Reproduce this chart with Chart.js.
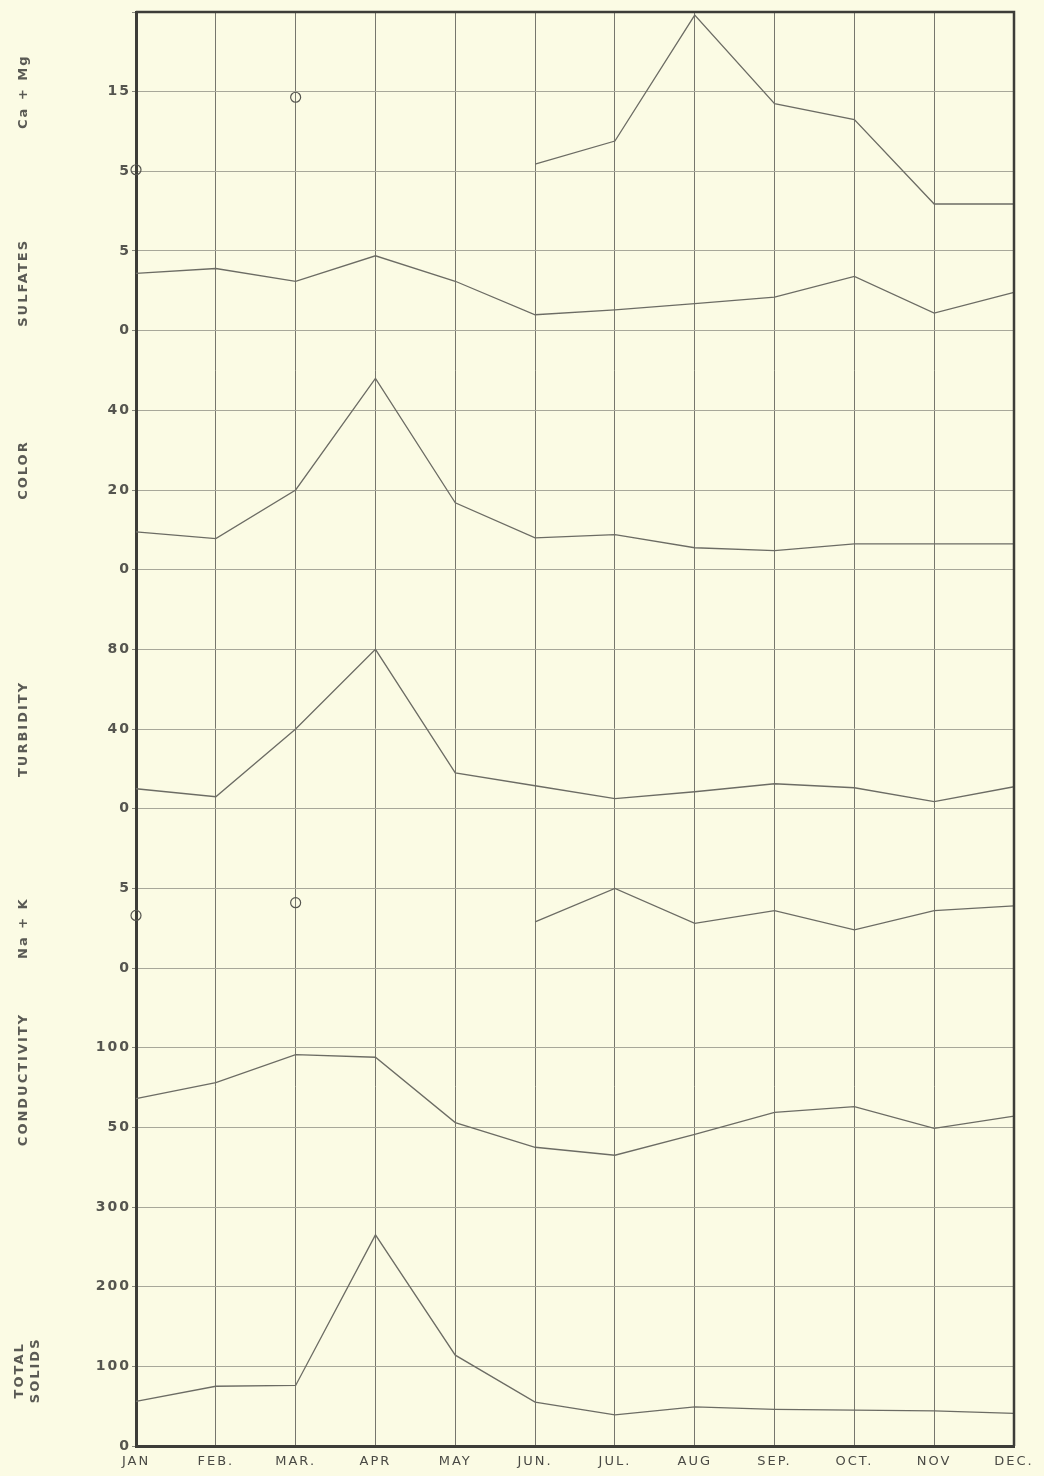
<!DOCTYPE html>
<html>
<head>
<meta charset="utf-8">
<script src="https://cdn.jsdelivr.net/npm/chart.js@4.4.1/dist/chart.umd.min.js"></script>
<style>
  html, body { margin: 0; padding: 0; background: #fbfbe4; }
  #wrap { width: 1044px; height: 1476px; position: relative; }
</style>
</head>
<body>
<div id="wrap"><canvas id="chart"></canvas></div>
<script>
const months = ["JAN", "FEB.", "MAR.", "APR", "MAY", "JUN.", "JUL.", "AUG", "SEP.", "OCT.", "NOV", "DEC."]

// monthly values, one array per panel (bottom panel first)
const totalSolids  = [56, 75, 76, 265, 114, 55, 39, 49, 46, 45, 44, 41]
const conductivity = [68, 78, 95.6, 94, 53, 37.5, 32.5, 45.6, 59.4, 63, 49.4, 57]
const naK          = [null, null, null, null, null, 2.9, 5.0, 2.8, 3.6, 2.4, 3.6, 3.9]
const naKSpots     = [3.3, null, 4.1, null, null, null, null, null, null, null, null, null]
const turbidity    = [10, 6, 40, 80, 18, 11.5, 5, 8.5, 12.5, 10.5, 3.5, 11]
const colour       = [9.5, 7.8, 20, 48, 16.8, 8, 8.8, 5.5, 4.8, 6.5, 6.5, 6.5]
const sulfates     = [3.6, 3.9, 3.1, 4.7, 3.1, 1.0, 1.3, 1.7, 2.1, 3.4, 1.1, 2.4]
const caMg         = [null, null, null, null, null, 5.9, 8.8, 24.6, 13.5, 11.5, 0.9, 0.9]
const caMgSpots    = [5.2, null, 14.3, null, null, null, null, null, null, null, null, null]

// panels, declared bottom to top; stacked axes share the left side
const panels = [
  {id: "ts",    title: ["TOTAL", "SOLIDS"], min: 0, max: 300, step: 100, weight: 3, hide: [],    titleAt: 95},
  {id: "cond",  title: ["CONDUCTIVITY"],    min: 0, max: 150, step: 50,  weight: 3, hide: [0, 150], titleAt: 80},
  {id: "nak",   title: ["Na + K"],          min: 0, max: 10,  step: 5,   weight: 2, hide: [10],  titleAt: 2.5},
  {id: "turb",  title: ["TURBIDITY"],       min: 0, max: 120, step: 40,  weight: 3, hide: [120], titleAt: 40},
  {id: "color", title: ["COLOR"],           min: 0, max: 60,  step: 20,  weight: 3, hide: [60],  titleAt: 25},
  {id: "sulf",  title: ["SULFATES"],        min: 0, max: 10,  step: 5,   weight: 2, hide: [10],  titleAt: 3},
  {id: "camg",  title: ["Ca + Mg"],         min: 5, max: 25,  step: 10,  weight: 2, hide: [25],  titleAt: 15},
]

const ink = "#3d3d38"
const lineInk = "#6c6c64"

// clip off: a line may run past its own panel (Ca + Mg in Nov/Dec)
function lineSet(data, axis) {
  return {data, yAxisID: axis, borderColor: lineInk, borderWidth: 1.3, pointRadius: 0,
    tension: 0, spanGaps: false, fill: false, clip: false}
}
function spotSet(data, axis) {
  return {data, yAxisID: axis, showLine: false, pointRadius: 5, pointBorderWidth: 1.2,
    pointBorderColor: "#55554f", pointBackgroundColor: "rgba(0,0,0,0)", clip: false}
}

const scales = {
  x: {
    type: "category",
    labels: months,
    offset: false,
    border: {display: true, color: ink, width: 3},
    grid: {color: "#76766c", lineWidth: 1, drawTicks: false},
    ticks: {autoSkip: false, maxRotation: 0, padding: 8, color: "#4a4a45", font: {size: 13}},
    afterFit: s => { s.height = 30 }
  }
}
panels.forEach(p => {
  scales[p.id] = {
    type: "linear",
    axis: "y",
    position: "left",
    stack: "panels",
    stackWeight: p.weight,
    min: p.min,
    max: p.max,
    offset: false,
    border: {display: true, color: ink, width: 3},
    grid: {color: "#a7a799", lineWidth: 1, tickLength: 4, tickColor: "#8a8a7e"},
    ticks: {
      stepSize: p.step,
      padding: 1,
      color: "#55554f",
      font: {size: 14, weight: "bold"},
      callback: v => p.hide.includes(v) ? "" : v
    },
    afterFit: s => { s.width = 136 }
  }
})

const spacing = {
  id: "spacing",
  beforeUpdate(chart) { chart.ctx.letterSpacing = "2px" },
  beforeDraw(chart) { chart.ctx.letterSpacing = "2px" }
}

const frame = {
  id: "frame",
  afterDraw(chart) {
    const {ctx, chartArea: a} = chart
    ctx.save()
    ctx.strokeStyle = ink
    ctx.lineWidth = 2.5
    ctx.beginPath()
    ctx.moveTo(a.left, a.top)
    ctx.lineTo(a.right, a.top)
    ctx.lineTo(a.right, a.bottom)
    ctx.stroke()
    ctx.restore()
  }
}

const sideTitles = {
  id: "sideTitles",
  afterDraw(chart) {
    const ctx = chart.ctx
    ctx.save()
    ctx.fillStyle = "#5a5a54"
    ctx.font = "bold 13px 'DejaVu Sans'"
    ctx.letterSpacing = "2px"
    ctx.textAlign = "center"
    ctx.textBaseline = "middle"
    panels.forEach(p => {
      const y = chart.scales[p.id].getPixelForValue(p.titleAt)
      const x0 = p.title.length > 1 ? 20 : 24
      p.title.forEach((line, i) => {
        ctx.save()
        ctx.translate(x0 + i * 16, y)
        ctx.rotate(-Math.PI / 2)
        ctx.fillText(line, 0, 0)
        ctx.restore()
      })
    })
    ctx.restore()
  }
}

Chart.defaults.font.family = "'DejaVu Sans', sans-serif"

const chart = new Chart("chart", {
  type: "line",
  data: {
    labels: months,
    datasets: [
      lineSet(totalSolids, "ts"),
      lineSet(conductivity, "cond"),
      lineSet(naK, "nak"),
      spotSet(naKSpots, "nak"),
      lineSet(turbidity, "turb"),
      lineSet(colour, "color"),
      lineSet(sulfates, "sulf"),
      lineSet(caMg, "camg"),
      spotSet(caMgSpots, "camg"),
    ]
  },
  options: {
    responsive: true,
    maintainAspectRatio: false,
    animation: false,
    events: [],
    layout: {padding: {left: 0, right: 30, top: 12, bottom: 0}},
    plugins: {
      legend: {display: false},
      tooltip: {enabled: false},
    },
    scales
  },
  plugins: [spacing, frame, sideTitles]
})
</script>
</body>
</html>
